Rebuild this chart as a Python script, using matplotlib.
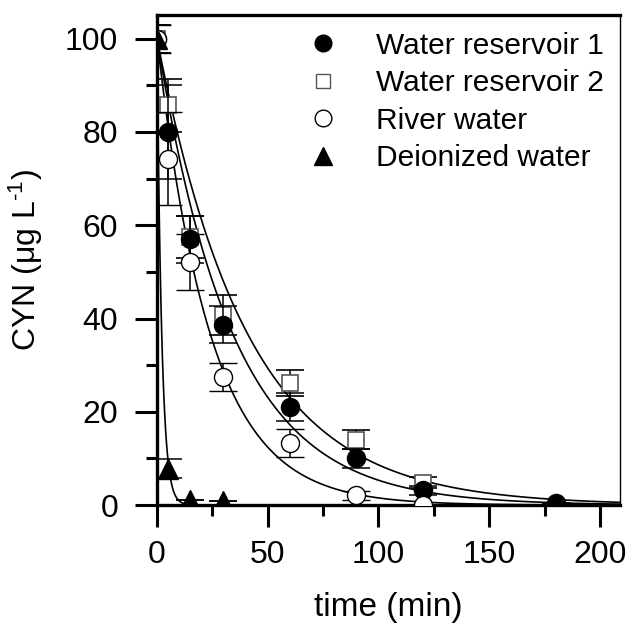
import numpy as np
import matplotlib
matplotlib.use("Agg")
import matplotlib.pyplot as plt
from matplotlib.lines import Line2D
from matplotlib.ticker import MultipleLocator

plt.rcParams['font.family'] = ['Liberation Sans', 'DejaVu Sans']
plt.rcParams['mathtext.fontset'] = 'custom'
plt.rcParams['mathtext.rm'] = 'Liberation Sans'
plt.rcParams['mathtext.it'] = 'Liberation Sans'

# measured data (time in min, CYN in ug/L)
t_wr1 = [0, 5, 15, 30, 60, 90, 120, 180]
y_wr1 = [100, 80, 57, 38.7, 21, 10, 3.2, 0.4]
e_wr1 = [3, 10, 5, 4, 3, 2, 1, 0]

t_wr2 = [0, 5, 15, 30, 60, 90, 120]
y_wr2 = [100, 85.7, 57.5, 40.7, 26.1, 14, 4.8]
e_wr2 = [3, 5.7, 4.5, 4.3, 2.8, 2, 1.2]

t_riv = [0, 5, 15, 30, 60, 90, 120]
y_riv = [100, 74.3, 52.2, 27.4, 13.3, 2.1, 0]
e_riv = [3, 10, 6, 3, 3, 1, 0]

t_dei = [0, 5, 15, 30]
y_dei = [100, 7.8, 1.2, 0.8]
e_dei = [3, 2, 0, 0]

# first-order fit rate constants (1/min)
k_wr1 = 0.0293
k_wr2 = 0.0245
k_riv = 0.0417
k_dei = 0.47

labels = ['Water reservoir 1', 'Water reservoir 2', 'River water', 'Deionized water']

fig = plt.figure(figsize=(6.28, 6.37), dpi=100)
ax = fig.add_axes([0.25, 0.207, 0.737, 0.769])

# fitted curves
tt = np.linspace(0, 210, 600)
for k in [k_wr2, k_wr1, k_riv, k_dei]:
    ax.plot(tt, 100 * np.exp(-k * tt), color='black', lw=1.2, zorder=2)

eb = dict(ecolor='black', elinewidth=1.1, capsize=10, capthick=1.1, linestyle='none')
ax.errorbar(t_wr2, y_wr2, yerr=e_wr2, marker='s', ms=11, mfc='white', mec='#555555',
            mew=1.2, zorder=3, **eb)
ax.errorbar(t_wr1, y_wr1, yerr=e_wr1, marker='o', ms=13, mfc='black', mec='black',
            zorder=4, **eb)
ax.errorbar(t_riv, y_riv, yerr=e_riv, marker='o', ms=13, mfc='white', mec='black',
            mew=1.0, zorder=5, **eb)
ax.errorbar(t_dei, y_dei, yerr=e_dei, marker='^', ms=14, mfc='black', mec='black',
            zorder=6, **eb)

ax.set_xlim(0, 209)
ax.set_ylim(0, 105)
ax.xaxis.set_major_locator(MultipleLocator(50))
ax.xaxis.set_minor_locator(MultipleLocator(25))
ax.yaxis.set_major_locator(MultipleLocator(20))
ax.yaxis.set_minor_locator(MultipleLocator(10))
ax.tick_params(which='major', direction='out', length=16, width=2.2, labelsize=23, pad=9)
ax.tick_params(which='minor', direction='out', length=8, width=2.2)
ax.tick_params(axis='y', which='major', pad=12)
ax.tick_params(top=False, right=False)
for s in ['left', 'bottom', 'top']:
    ax.spines[s].set_linewidth(2.4)
ax.spines['right'].set_linewidth(1.0)

ax.set_xlabel('time (min)', fontsize=24, labelpad=16)
ax.set_ylabel('CYN (μg L$^{\u2010 1}$)', fontsize=23, labelpad=14)

handles = [
    Line2D([], [], ls='none', marker='o', ms=12, mfc='black', mec='black'),
    Line2D([], [], ls='none', marker='s', ms=10, mfc='white', mec='#555555'),
    Line2D([], [], ls='none', marker='o', ms=12, mfc='white', mec='black'),
    Line2D([], [], ls='none', marker='^', ms=13, mfc='black', mec='black'),
]
ax.legend(handles, labels, loc='upper right', bbox_to_anchor=(1.0, 1.0), frameon=False,
          fontsize=21.5, handletextpad=1.0, labelspacing=0.32, handlelength=1.5,
          borderaxespad=0.15)

fig.savefig('out.png', dpi=100)
